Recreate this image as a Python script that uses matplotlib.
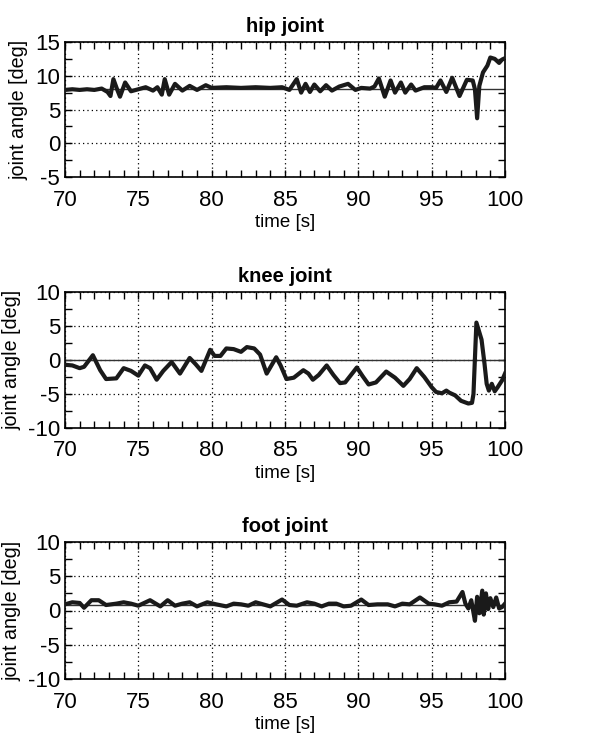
import numpy as np
import matplotlib.pyplot as plt
from matplotlib.ticker import MultipleLocator

plt.rcParams['font.family'] = ['Liberation Sans', 'DejaVu Sans']
plt.rcParams['axes.unicode_minus'] = False

# ===== dane =====
hip_t = [70.0, 70.5, 71.0, 71.5, 72.0, 72.5, 72.9, 73.1, 73.3, 73.55, 73.75, 74.1, 74.5, 75.0,
         75.5, 76.0, 76.3, 76.6, 76.8, 77.1, 77.5, 78.0, 78.5, 79.0, 79.6, 80.0, 81.0, 82.0,
         83.0, 84.0, 84.8, 85.3, 85.8, 86.1, 86.4, 86.7, 87.0, 87.4, 87.8, 88.2, 88.7, 89.3,
         89.8, 90.2, 90.8, 91.1, 91.4, 91.8, 92.2, 92.5, 92.9, 93.2, 93.6, 93.9, 94.5, 95.0,
         95.3, 95.6, 96.0, 96.4, 96.9, 97.4, 97.8, 97.95, 98.1, 98.25, 98.5, 98.8, 99.0,
         99.3, 99.6, 99.8, 100.0]
hip_y = [7.9, 8.0, 7.9, 8.0, 7.9, 8.1, 7.6, 7.0, 9.5, 8.0, 6.9, 9.0, 7.7, 8.0,
         8.3, 7.8, 8.3, 7.2, 9.5, 7.2, 8.8, 7.8, 8.5, 7.9, 8.6, 8.2, 8.3, 8.2,
         8.3, 8.2, 8.3, 7.9, 9.5, 7.5, 8.8, 7.6, 8.7, 7.7, 8.6, 7.8, 8.4, 8.8,
         7.9, 8.2, 8.1, 8.4, 9.6, 6.9, 9.3, 7.5, 9.0, 7.5, 8.7, 7.8, 8.3, 8.3,
         8.2, 9.3, 7.6, 9.7, 7.0, 9.4, 9.3, 8.0, 3.7, 8.5, 10.5, 11.5, 12.7,
         12.5, 11.9, 12.4, 12.6]

knee_t = [70.0, 70.5, 71.0, 71.3, 71.9, 72.4, 72.8, 73.5, 74.0, 74.5, 75.0, 75.45, 75.8,
          76.25, 76.7, 77.27, 77.84, 78.5, 78.9, 79.3, 79.9, 80.2, 80.6, 81.0, 81.5, 82.0,
          82.4, 82.9, 83.3, 83.75, 84.4, 84.7, 85.1, 85.6, 86.25, 86.6, 86.9, 87.3, 87.84,
          88.3, 88.75, 89.1, 89.9, 90.3, 90.7, 91.2, 91.9, 92.5, 93.07, 93.5, 93.98, 94.5,
          95.0, 95.3, 95.7, 96.0, 96.2, 96.6, 97.0, 97.5, 97.75, 97.85, 98.05, 98.4, 98.6,
          98.75, 98.9, 99.1, 99.3, 99.5, 99.8, 100.0]
knee_y = [-0.7, -0.8, -1.2, -1.0, 0.7, -1.5, -2.8, -2.7, -1.2, -1.6, -2.3, -0.8, -1.2,
          -2.9, -1.6, -0.3, -2.0, 0.3, -0.6, -1.6, 1.5, 0.6, 0.6, 1.7, 1.6, 1.2,
          1.9, 1.7, 0.8, -2.0, 0.4, -0.8, -2.8, -2.6, -1.5, -2.0, -2.9, -2.2, -0.8,
          -2.2, -3.4, -3.3, -1.1, -2.4, -3.6, -3.3, -1.7, -2.6, -3.8, -2.8, -1.2, -2.5,
          -4.0, -4.7, -4.9, -4.5, -4.8, -5.2, -6.0, -6.4, -6.3, -5.0, 5.5, 3.0, -0.5,
          -3.5, -4.5, -3.5, -4.6, -4.0, -3.0, -2.0]

foot_t = [70.0, 70.5, 71.0, 71.3, 71.8, 72.3, 72.8, 73.5, 74.0, 74.5, 75.0, 75.8, 76.5,
          77.0, 77.5, 78.0, 78.5, 79.0, 79.7, 80.3, 81.0, 81.5, 82.0, 82.5, 83.0, 83.5,
          84.0, 84.8, 85.3, 85.8, 86.5, 87.0, 87.5, 88.0, 88.5, 89.0, 89.5, 90.2, 90.7,
          91.3, 92.0, 92.5, 93.0, 93.5, 94.2, 94.8, 95.2, 95.7, 96.2, 96.7, 97.1, 97.3,
          97.5, 97.7, 97.85, 97.95, 98.1, 98.25, 98.45, 98.55, 98.7, 98.85, 99.0, 99.2,
          99.4, 99.6, 99.8, 100.0]
foot_y = [0.9, 1.2, 1.1, 0.4, 1.5, 1.5, 0.8, 1.0, 1.2, 1.0, 0.7, 1.5, 0.6,
          1.5, 0.7, 1.0, 1.2, 0.6, 1.2, 0.9, 0.6, 1.0, 0.9, 0.7, 1.2, 0.9,
          0.6, 1.6, 0.8, 0.7, 1.2, 1.0, 0.6, 1.0, 1.0, 0.6, 0.7, 1.6, 0.8,
          0.9, 0.9, 0.6, 1.0, 0.9, 1.9, 1.0, 0.9, 0.7, 1.2, 1.3, 2.7, 1.0,
          0.3, 1.5, -0.3, -1.5, 2.0, -0.4, 2.9, -0.6, 2.5, 0.2, 1.8, 0.5,
          1.9, 0.3, 0.5, 1.0]

titles = ['hip joint', 'knee joint', 'foot joint']
ref_levels = [8.0, 0.0, 0.8]
ylims = [(-5, 15), (-10, 10), (-10, 10)]
series = [(hip_t, hip_y), (knee_t, knee_y), (foot_t, foot_y)]

W, H = 603, 734
fig = plt.figure(figsize=(W / 100, H / 100), dpi=100)
# pozycje osi w pikselach (lewo, góra, prawo, dół)
boxes = [(65, 42, 505, 177), (65, 292, 505, 428), (65, 542, 505, 679)]

for (l, t, r, b), title, ref, ylim, (tt, yy) in zip(boxes, titles, ref_levels, ylims, series):
    ax = fig.add_axes([l / W, 1 - b / H, (r - l) / W, (b - t) / H])
    ax.axhline(ref, color='#333333', lw=1.0, zorder=2)
    ax.plot(tt, yy, color='#1a1a1a', lw=3.0, zorder=3, solid_joinstyle='round')
    ax.set_xlim(70, 100)
    ax.set_ylim(*ylim)
    ax.xaxis.set_major_locator(MultipleLocator(5))
    ax.xaxis.set_minor_locator(MultipleLocator(1))
    ax.yaxis.set_major_locator(MultipleLocator(5))
    ax.yaxis.set_minor_locator(MultipleLocator(2.5))
    ax.tick_params(which='both', direction='in', top=True, right=True,
                   width=1.0, length=5, labelsize=16)
    ax.tick_params(axis='x', which='major', pad=9)
    ax.tick_params(axis='y', which='major', pad=3.5)
    ax.grid(True, which='major', color='black', linestyle=(0, (1, 2.5)), lw=0.9)
    for s in ax.spines.values():
        s.set_linewidth(1.2)
    ax.set_title(title, fontsize=14.5, fontweight='bold', pad=7.5)
    ax.set_xlabel('time [s]', fontsize=13.5, labelpad=2.5)
    ax.set_ylabel('joint angle [deg]', fontsize=14.2, labelpad=5)

plt.savefig('out.png', dpi=100)
